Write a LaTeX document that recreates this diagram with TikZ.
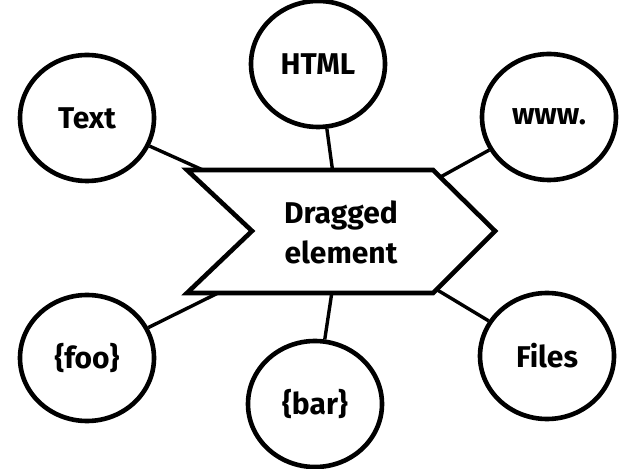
\documentclass[tikz,border=0pt]{standalone}
\usepackage{fontspec}
\setmainfont{Fira Sans}
\usepackage{tikz}
\usetikzlibrary{shapes.geometric,backgrounds}

\begin{document}
\begin{tikzpicture}[
  x=0.5pt, y=-0.5pt,
  lbl/.style={font=\bfseries\fontsize{15}{20}\selectfont},
  bubble/.style={ellipse, draw, fill=white, line width=2.3pt, minimum width=67pt,
                 minimum height=63pt, inner sep=0pt, lbl},
  chev/.style={draw, fill=white, line width=2.3pt, line join=miter},
  link/.style={line width=1.7pt},
]
\useasboundingbox (0,0) rectangle (625,469);

\node[bubble] (text)  at (87,118)  {Text};
\node[bubble] (html)  at (318,64)  {HTML};
\node[bubble] (www)   at (549,117) {www.};
\node[bubble] (foo)   at (87,358)  {\{foo\}};
\node[bubble] (bar)   at (315,404) {\{bar\}};
\node[bubble] (files) at (547,356) {Files};
\node[lbl, align=center] (drag) at (341,232) {Dragged\\element};

\begin{scope}[on background layer]
\draw[link] (text) -- (drag.center);
\draw[link] (html) -- (drag.center);
\draw[link] (www) -- (drag.center);
\draw[link] (foo) -- (drag.center);
\draw[link] (bar) -- (drag.center);
\draw[link] (files) -- (drag.center);
% arrow shaped box on top of the links
\draw[chev] (187,170) -- (433,170) -- (495,231) -- (433,293) -- (187,293) -- (252,231) -- cycle;
\end{scope}
\end{tikzpicture}
\end{document}
